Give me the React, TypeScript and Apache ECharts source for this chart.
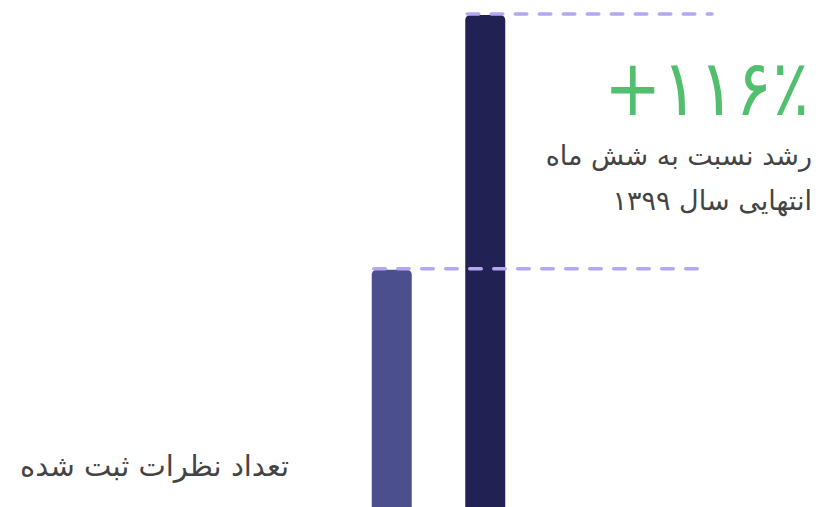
import React, { useEffect, useRef } from "react";
import * as echarts from "echarts";

const categories = ["شش ماه انتهایی ۱۳۹۹", "شش ماه اول ۱۴۰۰"];
const values = [241, 500];
const barColors = ["#4b4f8d", "#212253"];
const growthLabel = "+۱۱۶٪";
const growthLines = ["رشد نسبت به شش ماه", "انتهایی سال ۱۳۹۹"];
const seriesTitle = "تعداد نظرات ثبت شده";
const dashEnds = [703, 712];

export default function App() {
  const ref = useRef<HTMLDivElement>(null);
  useEffect(() => {
    document.body.style.margin = "0";
    const chart = echarts.init(ref.current!, undefined, { renderer: "svg" });
    const font = "'DejaVu Sans', sans-serif";
    chart.setOption({
      animation: false,
      grid: { left: 345, width: 187, top: 15, bottom: 0 },
      xAxis: {
        type: "category",
        data: categories,
        show: false,
      },
      yAxis: { type: "value", min: 0, max: 500, show: false },
      series: [
        {
          type: "bar",
          barWidth: 40,
          data: values.map((v, i) => ({
            value: v,
            itemStyle: { color: barColors[i], borderRadius: [5, 5, 0, 0] },
          })),
        },
      ],
    });
    const lines: any[] = values.map((v, i) => {
      const p = chart.convertToPixel({ gridIndex: 0 }, [i, v]) as number[];
      return {
        type: "line",
        z: 10,
        shape: { x1: p[0] - 18, y1: p[1] - 1, x2: dashEnds[i], y2: p[1] - 1 },
        style: {
          stroke: "#b4a7ef",
          lineWidth: 3.5,
          lineDash: [11.5, 12.5],
          lineCap: "round",
        },
      };
    });
    chart.setOption({
      graphic: [
        ...lines,
        {
          type: "text",
          x: 809,
          y: 88,
          scaleX: 0.88,
          style: {
            text: growthLabel,
            font: `78px ${font}`,
            fill: "#52bf6f",
            align: "right",
            verticalAlign: "middle",
          },
        },
        {
          type: "text",
          x: 812,
          y: 155,
          style: {
            text: growthLines[0],
            font: `27px ${font}`,
            fill: "#444444",
            align: "right",
            verticalAlign: "middle",
          },
        },
        {
          type: "text",
          x: 812,
          y: 200,
          style: {
            text: growthLines[1],
            font: `27px ${font}`,
            fill: "#444444",
            align: "right",
            verticalAlign: "middle",
          },
        },
        {
          type: "text",
          x: 20,
          y: 466,
          style: {
            text: seriesTitle,
            font: `29px ${font}`,
            fill: "#444444",
            align: "left",
            verticalAlign: "middle",
          },
        },
      ],
    });
    return () => chart.dispose();
  }, []);
  return <div ref={ref} style={{ width: 819, height: 507 }} />;
}
